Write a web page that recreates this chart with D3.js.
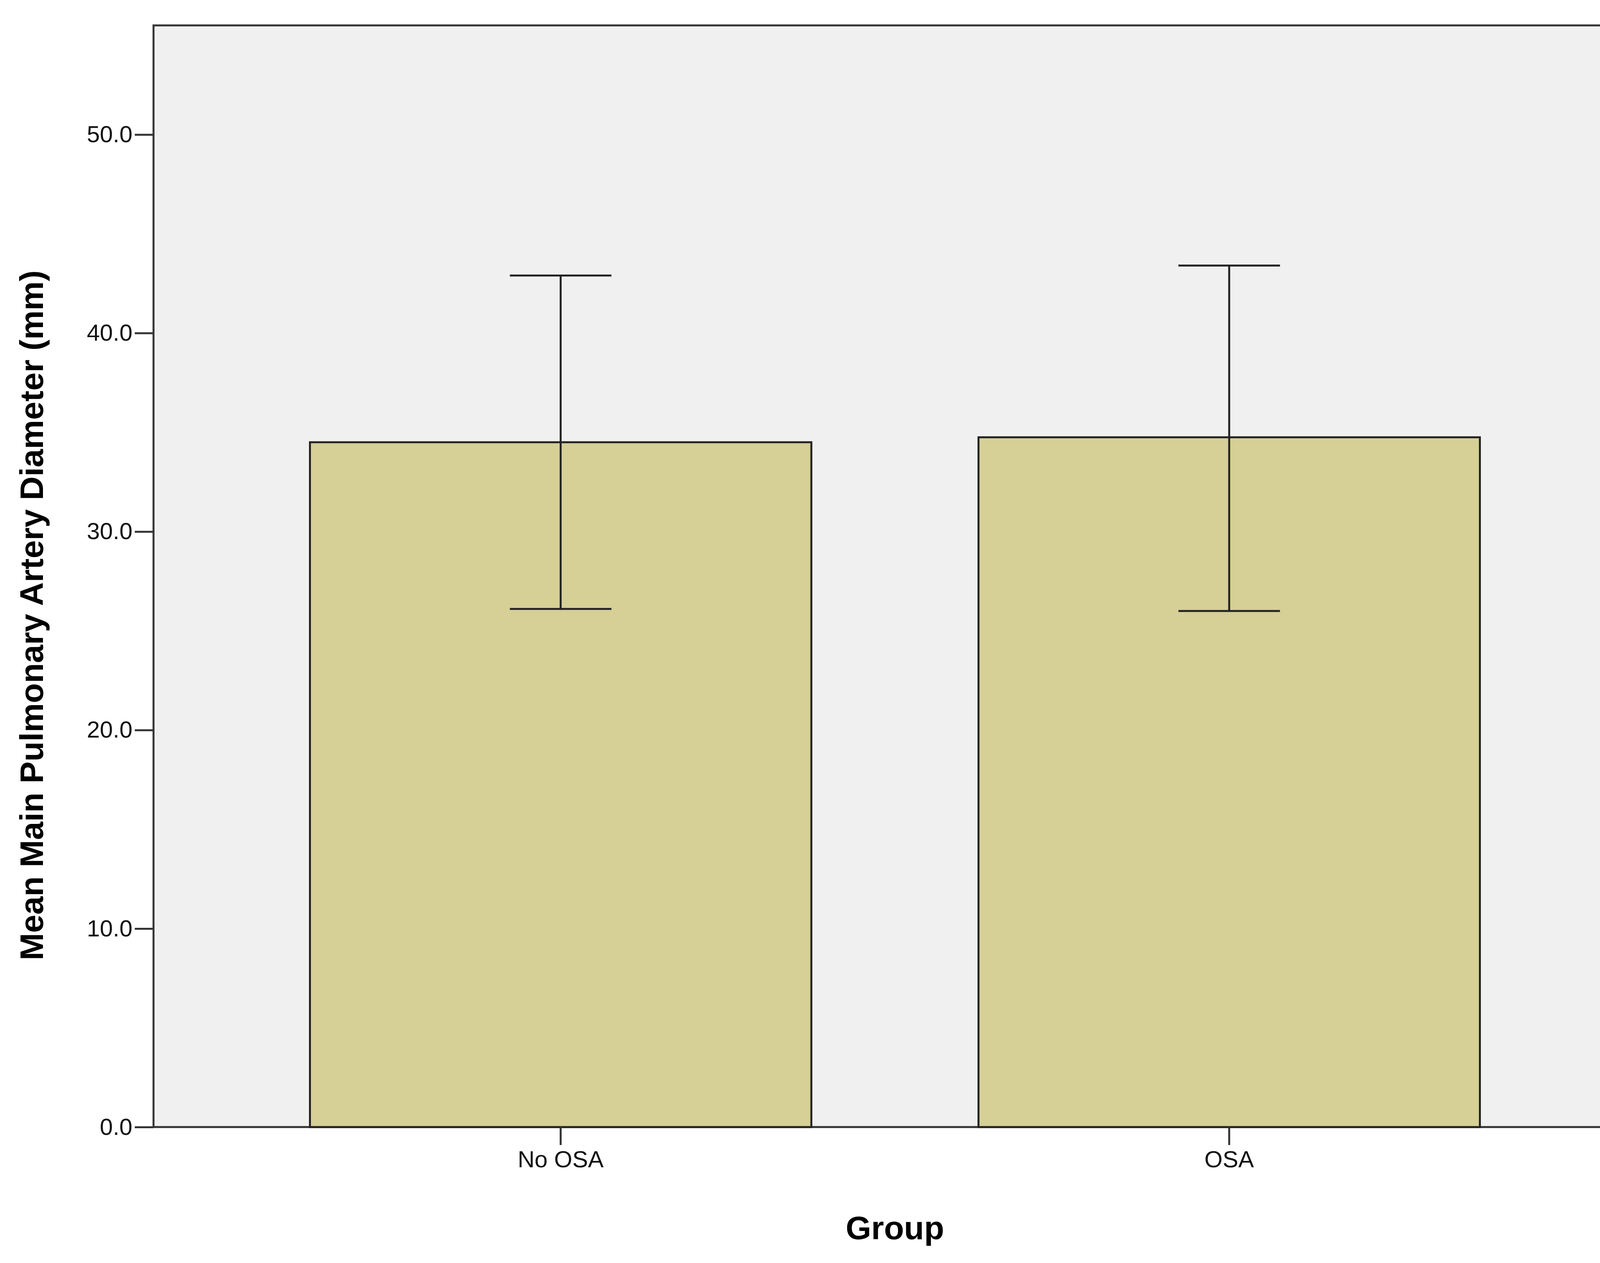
<!DOCTYPE html>
<html><head><meta charset="utf-8">
<script src="https://cdn.jsdelivr.net/npm/d3@7"></script>
<style>html,body{margin:0;padding:0;background:#fff;overflow:hidden}svg{display:block}</style></head>
<body><svg id="c" width="4224" height="3233"></svg>
<script>
const categories = ["No OSA", "OSA"];
const means = [34.5, 34.75];
const ciLow = [26.1, 26.0];
const ciHigh = [42.9, 43.4];
const yTicks = [0, 10, 20, 30, 40, 50];

const svg = d3.select("#c");
const L=393, R=4189, T=65, B=2885;
const x = d3.scaleBand().domain(categories).range([L,R]).paddingInner(0.25).paddingOuter(0.234);
const y = d3.scaleLinear().domain([0,55.5]).range([B,T]);

svg.append("rect").attr("x",L).attr("y",T).attr("width",R-L).attr("height",B-T)
  .attr("fill","#f0f0f0").attr("stroke","#333").attr("stroke-width",5);

svg.selectAll(".bar").data(categories).enter().append("rect")
  .attr("x",d=>x(d)).attr("width",x.bandwidth())
  .attr("y",(d,i)=>y(means[i])).attr("height",(d,i)=>B-y(means[i]))
  .attr("fill","#d6cf96").attr("stroke","#222").attr("stroke-width",5);

const cap = 130;
categories.forEach((c,i)=>{
  const cx = x(c)+x.bandwidth()/2;
  const g = svg.append("g").attr("stroke","#222").attr("stroke-width",5);
  g.append("line").attr("x1",cx).attr("x2",cx).attr("y1",y(ciLow[i])).attr("y2",y(ciHigh[i]));
  g.append("line").attr("x1",cx-cap).attr("x2",cx+cap).attr("y1",y(ciLow[i])).attr("y2",y(ciLow[i]));
  g.append("line").attr("x1",cx-cap).attr("x2",cx+cap).attr("y1",y(ciHigh[i])).attr("y2",y(ciHigh[i]));
});

const ya = svg.append("g").attr("transform",`translate(${L},0)`)
  .call(d3.axisLeft(y).tickValues(yTicks).tickFormat(d3.format(".1f")).tickSize(48).tickPadding(6));
ya.select(".domain").remove();
ya.selectAll(".tick line").attr("stroke","#333").attr("stroke-width",5);
ya.selectAll("text").attr("font-family","Arial, Liberation Sans, sans-serif").attr("font-size",60).attr("fill","#111");

const xa = svg.append("g").attr("transform",`translate(0,${B})`)
  .call(d3.axisBottom(x).tickSize(46).tickPadding(14));
xa.select(".domain").remove();
xa.selectAll(".tick line").attr("stroke","#333").attr("stroke-width",5);
xa.selectAll("text").attr("font-family","Arial, Liberation Sans, sans-serif").attr("font-size",60).attr("fill","#111");

svg.append("text").attr("x",(L+R)/2).attr("y",3172).attr("text-anchor","middle")
  .attr("font-family","Arial, Liberation Sans, sans-serif").attr("font-weight","bold").attr("font-size",84).text("Group");
svg.append("text").attr("transform",`translate(110,${(T+B)/2+100}) rotate(-90)`).attr("text-anchor","middle")
  .attr("font-family","Arial, Liberation Sans, sans-serif").attr("font-weight","bold").attr("font-size",84)
  .text("Mean Main Pulmonary Artery Diameter (mm)");
</script></body></html>
